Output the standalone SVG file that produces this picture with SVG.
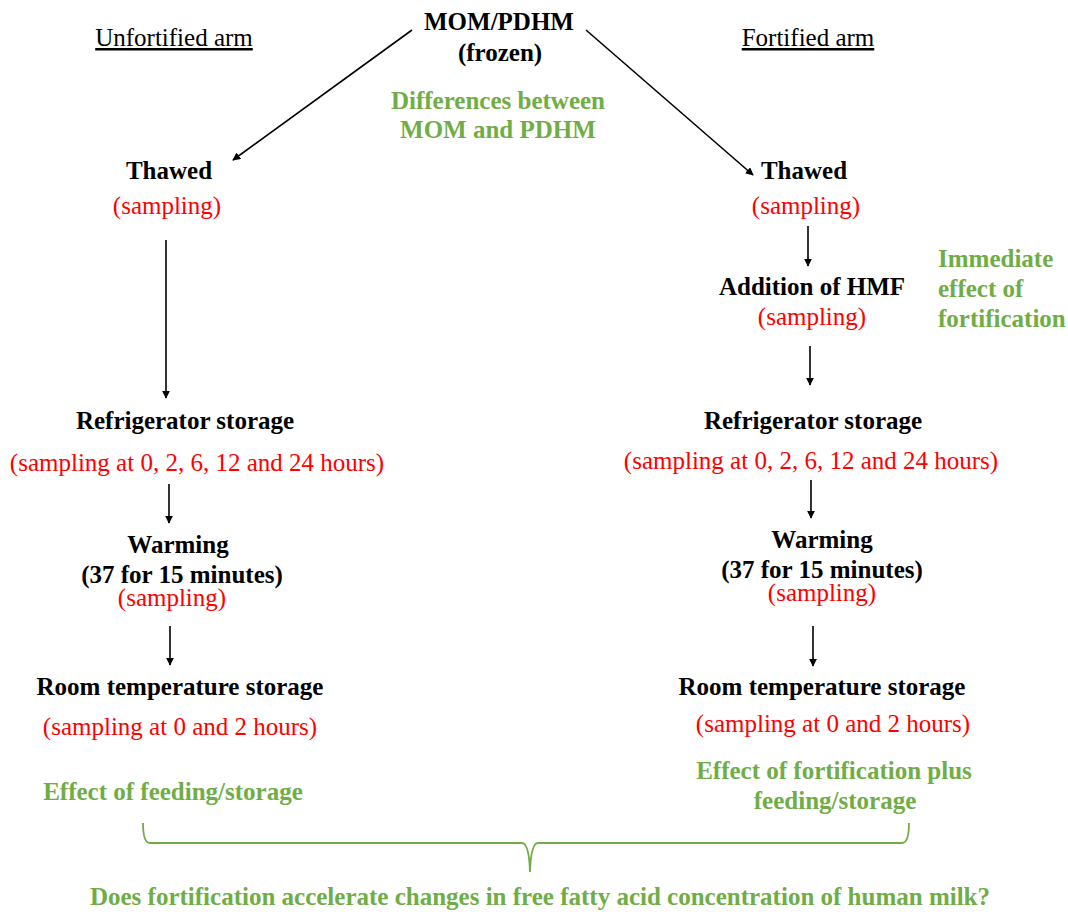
<svg xmlns="http://www.w3.org/2000/svg" width="1068" height="912" viewBox="0 0 1068 912" font-family="Liberation Serif, Times New Roman, serif">
<style>
text{font-size:25px;text-anchor:middle}
.b{font-weight:bold;fill:#000}
.r{fill:#FF0000}
.g{font-weight:bold;fill:#70AD47}
.u{fill:#000;text-decoration:underline}
.l{text-anchor:start}
.c{stroke:#000;stroke-width:1.6;fill:none;marker-end:url(#ah)}
</style>
<defs>
<marker id="ah" viewBox="0 0 10 10" refX="9" refY="5" markerWidth="8" markerHeight="8" markerUnits="userSpaceOnUse" orient="auto">
<path d="M0,0 L10,5 L0,10 z" fill="#000"/>
</marker>
</defs>
<rect width="1068" height="912" fill="#fff"/>
<g id="connectors">
<line class="c" x1="412" y1="30" x2="233" y2="160"/>
<line class="c" x1="586" y1="30" x2="753" y2="175"/>
<line class="c" x1="166" y1="240" x2="166" y2="398"/>
<line class="c" x1="169" y1="484" x2="169" y2="523"/>
<line class="c" x1="170" y1="626" x2="170" y2="665"/>
<line class="c" x1="808" y1="226" x2="808" y2="266"/>
<line class="c" x1="810" y1="346" x2="810" y2="385"/>
<line class="c" x1="811" y1="480" x2="811" y2="518"/>
<line class="c" x1="813" y1="626" x2="813" y2="666"/>
</g>
<g id="title-unfortified"><text class="u" x="174" y="46">Unfortified arm</text></g>
<g id="title-fortified"><text class="u" x="808" y="46">Fortified arm</text></g>
<g id="mom"><text class="b" x="499" y="30">MOM/PDHM</text><text class="b" x="500" y="61">(frozen)</text></g>
<g id="diff"><text class="g" x="498" y="109">Differences between</text><text class="g" x="498" y="138">MOM and PDHM</text></g>
<g id="u-thawed"><text class="b" x="169" y="179">Thawed</text><text class="r" x="167" y="214">(sampling)</text></g>
<g id="u-fridge"><text class="b" x="185" y="429">Refrigerator storage</text><text class="r" x="197" y="471">(sampling at 0, 2, 6, 12 and 24 hours)</text></g>
<g id="u-warm"><text class="b" x="178" y="553">Warming</text><text class="b" x="182" y="583">(37 for 15 minutes)</text><text class="r" x="172" y="606">(sampling)</text></g>
<g id="u-room"><text class="b" x="180" y="695">Room temperature storage</text><text class="r" x="180" y="735">(sampling at 0 and 2 hours)</text></g>
<g id="u-effect"><text class="g" x="173" y="800">Effect of feeding/storage</text></g>
<g id="f-thawed"><text class="b" x="804" y="179">Thawed</text><text class="r" x="806" y="214">(sampling)</text></g>
<g id="f-hmf"><text class="b" x="812" y="295">Addition of HMF</text><text class="r" x="812" y="325">(sampling)</text></g>
<g id="immediate"><text class="g l" x="938" y="267">Immediate</text><text class="g l" x="938" y="297">effect of</text><text class="g l" x="938" y="327">fortification</text></g>
<g id="f-fridge"><text class="b" x="813" y="429">Refrigerator storage</text><text class="r" x="811" y="469">(sampling at 0, 2, 6, 12 and 24 hours)</text></g>
<g id="f-warm"><text class="b" x="822" y="548">Warming</text><text class="b" x="822" y="578">(37 for 15 minutes)</text><text class="r" x="822" y="601">(sampling)</text></g>
<g id="f-room"><text class="b" x="822" y="695">Room temperature storage</text><text class="r" x="833" y="732">(sampling at 0 and 2 hours)</text></g>
<g id="f-effect"><text class="g" x="834" y="779">Effect of fortification plus</text><text class="g" x="835" y="809">feeding/storage</text></g>
<g id="brace"><path d="M143,823 Q143,843 150,843 L522,843 Q529,843 530,872 Q531,843 538,843 L902,843 Q909,843 909,823" fill="none" stroke="#70AD47" stroke-width="1.8"/></g>
<g id="question"><text class="g" x="540" y="905">Does fortification accelerate changes in free fatty acid concentration of human milk?</text></g>
</svg>
